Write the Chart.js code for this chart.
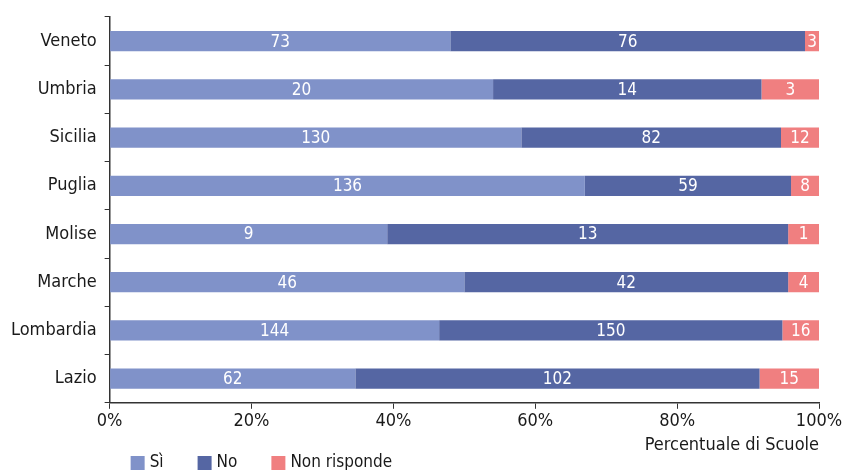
<!DOCTYPE html>
<html>
<head>
<meta charset="utf-8">
<script src="https://cdn.jsdelivr.net/npm/chart.js@4"></script>
<style>
  body { margin: 0; background: #fff; }
  #wrap { width: 849px; height: 470px; }
</style>
</head>
<body>
<div id="wrap"><canvas id="chartScuole"></canvas></div>
<script>
// regioni e numero di scuole per risposta
const regioni = ["Veneto", "Umbria", "Sicilia", "Puglia", "Molise", "Marche", "Lombardia", "Lazio"];
const si = [73, 20, 130, 136, 9, 46, 144, 62];
const no = [76, 14, 82, 59, 13, 42, 150, 102];
const nonRisponde = [3, 3, 12, 8, 1, 4, 16, 15];
const xTicks = [0, 20, 40, 60, 80, 100];

const FONT = "'DejaVu Sans Condensed', 'Liberation Sans', sans-serif";
const TESTO = "#1a1a1a";
const colori = ["#8092c9", "#5566a3", "#f07f80"];

const totali = regioni.map((r, i) => si[i] + no[i] + nonRisponde[i]);
const perc = arr => arr.map((v, i) => v / totali[i] * 100);

// etichette con i conteggi al centro di ogni segmento
const etichettePlugin = {
    id: "etichette",
    afterDatasetsDraw(chart) {
        const ctx = chart.ctx;
        ctx.save();
        ctx.fillStyle = "#fff";
        ctx.font = "17px " + FONT;
        ctx.textAlign = "center";
        ctx.textBaseline = "middle";
        chart.data.datasets.forEach((ds, di) => {
            const meta = chart.getDatasetMeta(di);
            meta.data.forEach((bar, i) => {
                const cx = (bar.x + bar.base) / 2;
                ctx.fillText(ds.conteggi[i], cx, bar.y + 1);
            });
        });
        ctx.restore();
    }
};

// legenda in basso, sotto l'asse
const legendaPlugin = {
    id: "legenda",
    afterDraw(chart) {
        const ctx = chart.ctx;
        const y = chart.height - 7;
        let x = chart.chartArea.left + 21;
        ctx.save();
        ctx.font = "17px " + FONT;
        ctx.textBaseline = "middle";
        ctx.textAlign = "left";
        chart.data.datasets.forEach(ds => {
            ctx.fillStyle = ds.backgroundColor;
            ctx.fillRect(x, y - 7, 14, 14);
            ctx.fillStyle = TESTO;
            ctx.fillText(ds.label, x + 19, y);
            x += 19 + ctx.measureText(ds.label).width + 34;
        });
        ctx.restore();
    }
};

const serie = [
    { label: "Sì", conteggi: si },
    { label: "No", conteggi: no },
    { label: "Non risponde", conteggi: nonRisponde }
];

new Chart(document.getElementById("chartScuole"), {
    type: "bar",
    data: {
        labels: regioni,
        datasets: serie.map((s, i) => ({
            label: s.label,
            conteggi: s.conteggi,
            data: perc(s.conteggi),
            backgroundColor: colori[i],
            borderWidth: 0,
            barPercentage: 0.42,
            categoryPercentage: 1
        }))
    },
    options: {
        indexAxis: "y",
        responsive: true,
        maintainAspectRatio: false,
        animation: false,
        layout: { padding: { left: 3, right: 30, top: 0, bottom: 14 } },
        plugins: {
            tooltip: { enabled: false },
            legend: { display: false }
        },
        scales: {
            x: {
                stacked: true,
                min: 0,
                max: 100,
                afterBuildTicks: axis => { axis.ticks = xTicks.map(v => ({ value: v })); },
                ticks: {
                    callback: v => v + "%",
                    color: TESTO,
                    font: { family: FONT, size: 18 },
                    maxRotation: 0,
                    padding: 2
                },
                grid: { drawOnChartArea: false, tickLength: 6, color: "#333" },
                border: { color: "#333", width: 1.5 },
                title: {
                    display: true,
                    text: "Percentuale di Scuole",
                    align: "end",
                    color: TESTO,
                    font: { family: FONT, size: 18 },
                    padding: { top: 0, bottom: 0 }
                }
            },
            y: {
                stacked: true,
                ticks: {
                    color: TESTO,
                    font: { family: FONT, size: 18, lineHeight: 1 },
                    padding: 8
                },
                grid: { drawOnChartArea: false, tickLength: 5, color: "#333", offset: true },
                border: { color: "#333", width: 1.5 }
            }
        }
    },
    plugins: [etichettePlugin, legendaPlugin]
});
</script>
</body>
</html>
